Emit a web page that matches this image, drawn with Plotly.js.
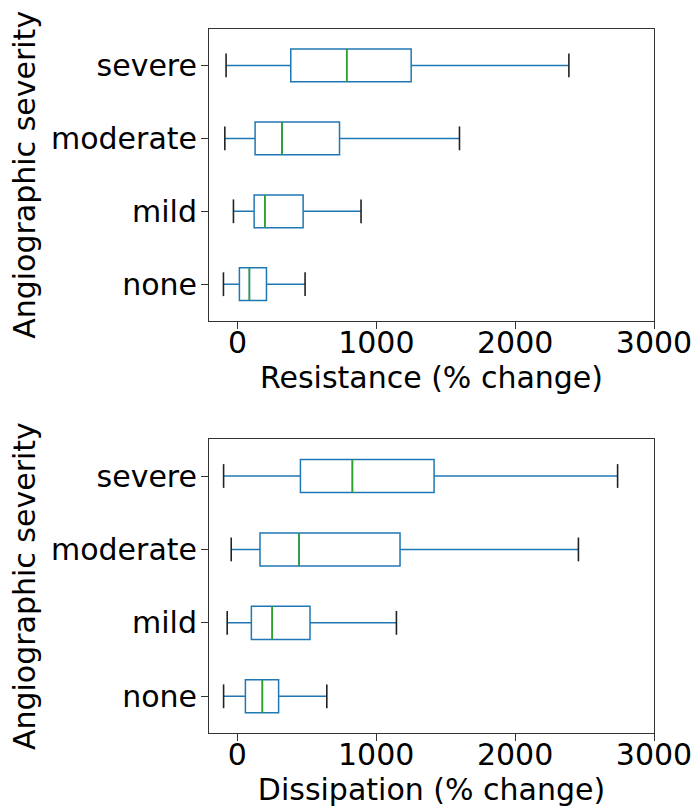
<!DOCTYPE html>
<html>
<head>
<meta charset="utf-8">
<script src="https://cdn.plot.ly/plotly-3.0.1.min.js"></script>
<style>html,body{margin:0;padding:0;background:#fff;}</style>
</head>
<body>
<div id="chart" style="width:698px;height:808px;"></div>
<script>
// Categories (bottom to top)
var categories = ['none', 'mild', 'moderate', 'severe'];

// Resistance (% change) box statistics
var resLower  = [-101, -29, -91, -82];
var resQ1     = [14, 120, 127, 384];
var resMedian = [86, 197, 321, 787];
var resQ3     = [209, 473, 735, 1251];
var resUpper  = [487, 890, 1599, 2387];

// Dissipation (% change) box statistics
var disLower  = [-98, -72, -43, -98];
var disQ1     = [59, 102, 164, 455];
var disMedian = [181, 252, 445, 829];
var disQ3     = [298, 524, 1172, 1417];
var disUpper  = [645, 1146, 2456, 2738];

var xTickVals = [0, 1000, 2000, 3000];
var xTickText = ['0', '1000', '2000', '3000'];

var BLUE = '#1f77b4', GREEN = '#2ca02c', CAP = '#222222';
var FONT = 'DejaVu Sans';

function panel(lower, q1, med, q3, upper, xa, ya) {
  var t = [];
  t.push({
    type: 'box', orientation: 'h', y: categories,
    q1: q1, median: med, q3: q3, lowerfence: lower, upperfence: upper,
    width: 0.45, whiskerwidth: 0, boxpoints: false,
    line: {color: BLUE, width: 1.5}, fillcolor: 'rgba(0,0,0,0)',
    xaxis: xa, yaxis: ya, hoverinfo: 'skip', showlegend: false
  });
  t.push({
    type: 'box', orientation: 'h', y: categories,
    q1: med, median: med, q3: med, lowerfence: med, upperfence: med,
    width: 0.45, whiskerwidth: 0, boxpoints: false,
    line: {color: GREEN, width: 1.6}, fillcolor: 'rgba(0,0,0,0)',
    xaxis: xa, yaxis: ya, hoverinfo: 'skip', showlegend: false
  });
  [lower, upper].forEach(function (vals) {
    t.push({
      type: 'scatter', mode: 'markers', x: vals, y: categories,
      marker: {symbol: 'line-ns', size: 17, color: CAP, line: {color: CAP, width: 1.6}},
      xaxis: xa, yaxis: ya, hoverinfo: 'skip', showlegend: false, cliponaxis: false
    });
  });
  return t;
}

var data = [].concat(
  panel(resLower, resQ1, resMedian, resQ3, resUpper, 'x', 'y'),
  panel(disLower, disQ1, disMedian, disQ3, disUpper, 'x2', 'y2')
);

function xaxis(title, domainAnchor, range) {
  return {
    anchor: domainAnchor, range: range,
    tickmode: 'array', tickvals: xTickVals, ticktext: xTickText,
    ticks: 'outside', ticklen: 7, tickwidth: 1, tickcolor: '#333',
    ticklabelstandoff: -12,
    showline: true, linecolor: '#333', linewidth: 1, mirror: true,
    showgrid: false, zeroline: false,
    tickfont: {family: FONT, size: 30, color: '#000'},
    title: {text: title, font: {family: FONT, size: 30, color: '#000'}, standoff: 3}
  };
}
function yaxis(domain, anchor) {
  return {
    domain: domain, anchor: anchor, type: 'category',
    categoryorder: 'array', categoryarray: categories, range: [-0.5, 3.5],
    ticks: 'outside', ticklen: 7, tickwidth: 1, tickcolor: '#333',
    ticklabelstandoff: -2,
    showline: true, linecolor: '#333', linewidth: 1, mirror: true,
    showgrid: false, zeroline: false,
    tickfont: {family: FONT, size: 30, color: '#000'},
    title: {text: 'Angiographic severity', font: {family: FONT, size: 30, color: '#000'}, standoff: 6}
  };
}

var layout = {
  width: 698, height: 808,
  margin: {l: 209, r: 44, t: 29, b: 75},
  paper_bgcolor: '#fff', plot_bgcolor: '#fff',
  showlegend: false,
  xaxis: xaxis('Resistance (% change)', 'y', [-205, 3000]),
  yaxis: yaxis([0.5857, 1], 'x'),
  xaxis2: xaxis('Dissipation (% change)', 'y2', [-203, 3000]),
  yaxis2: yaxis([0, 0.4172], 'x2')
};

Plotly.newPlot('chart', data, layout, {displayModeBar: false, staticPlot: true});
</script>
</body>
</html>
